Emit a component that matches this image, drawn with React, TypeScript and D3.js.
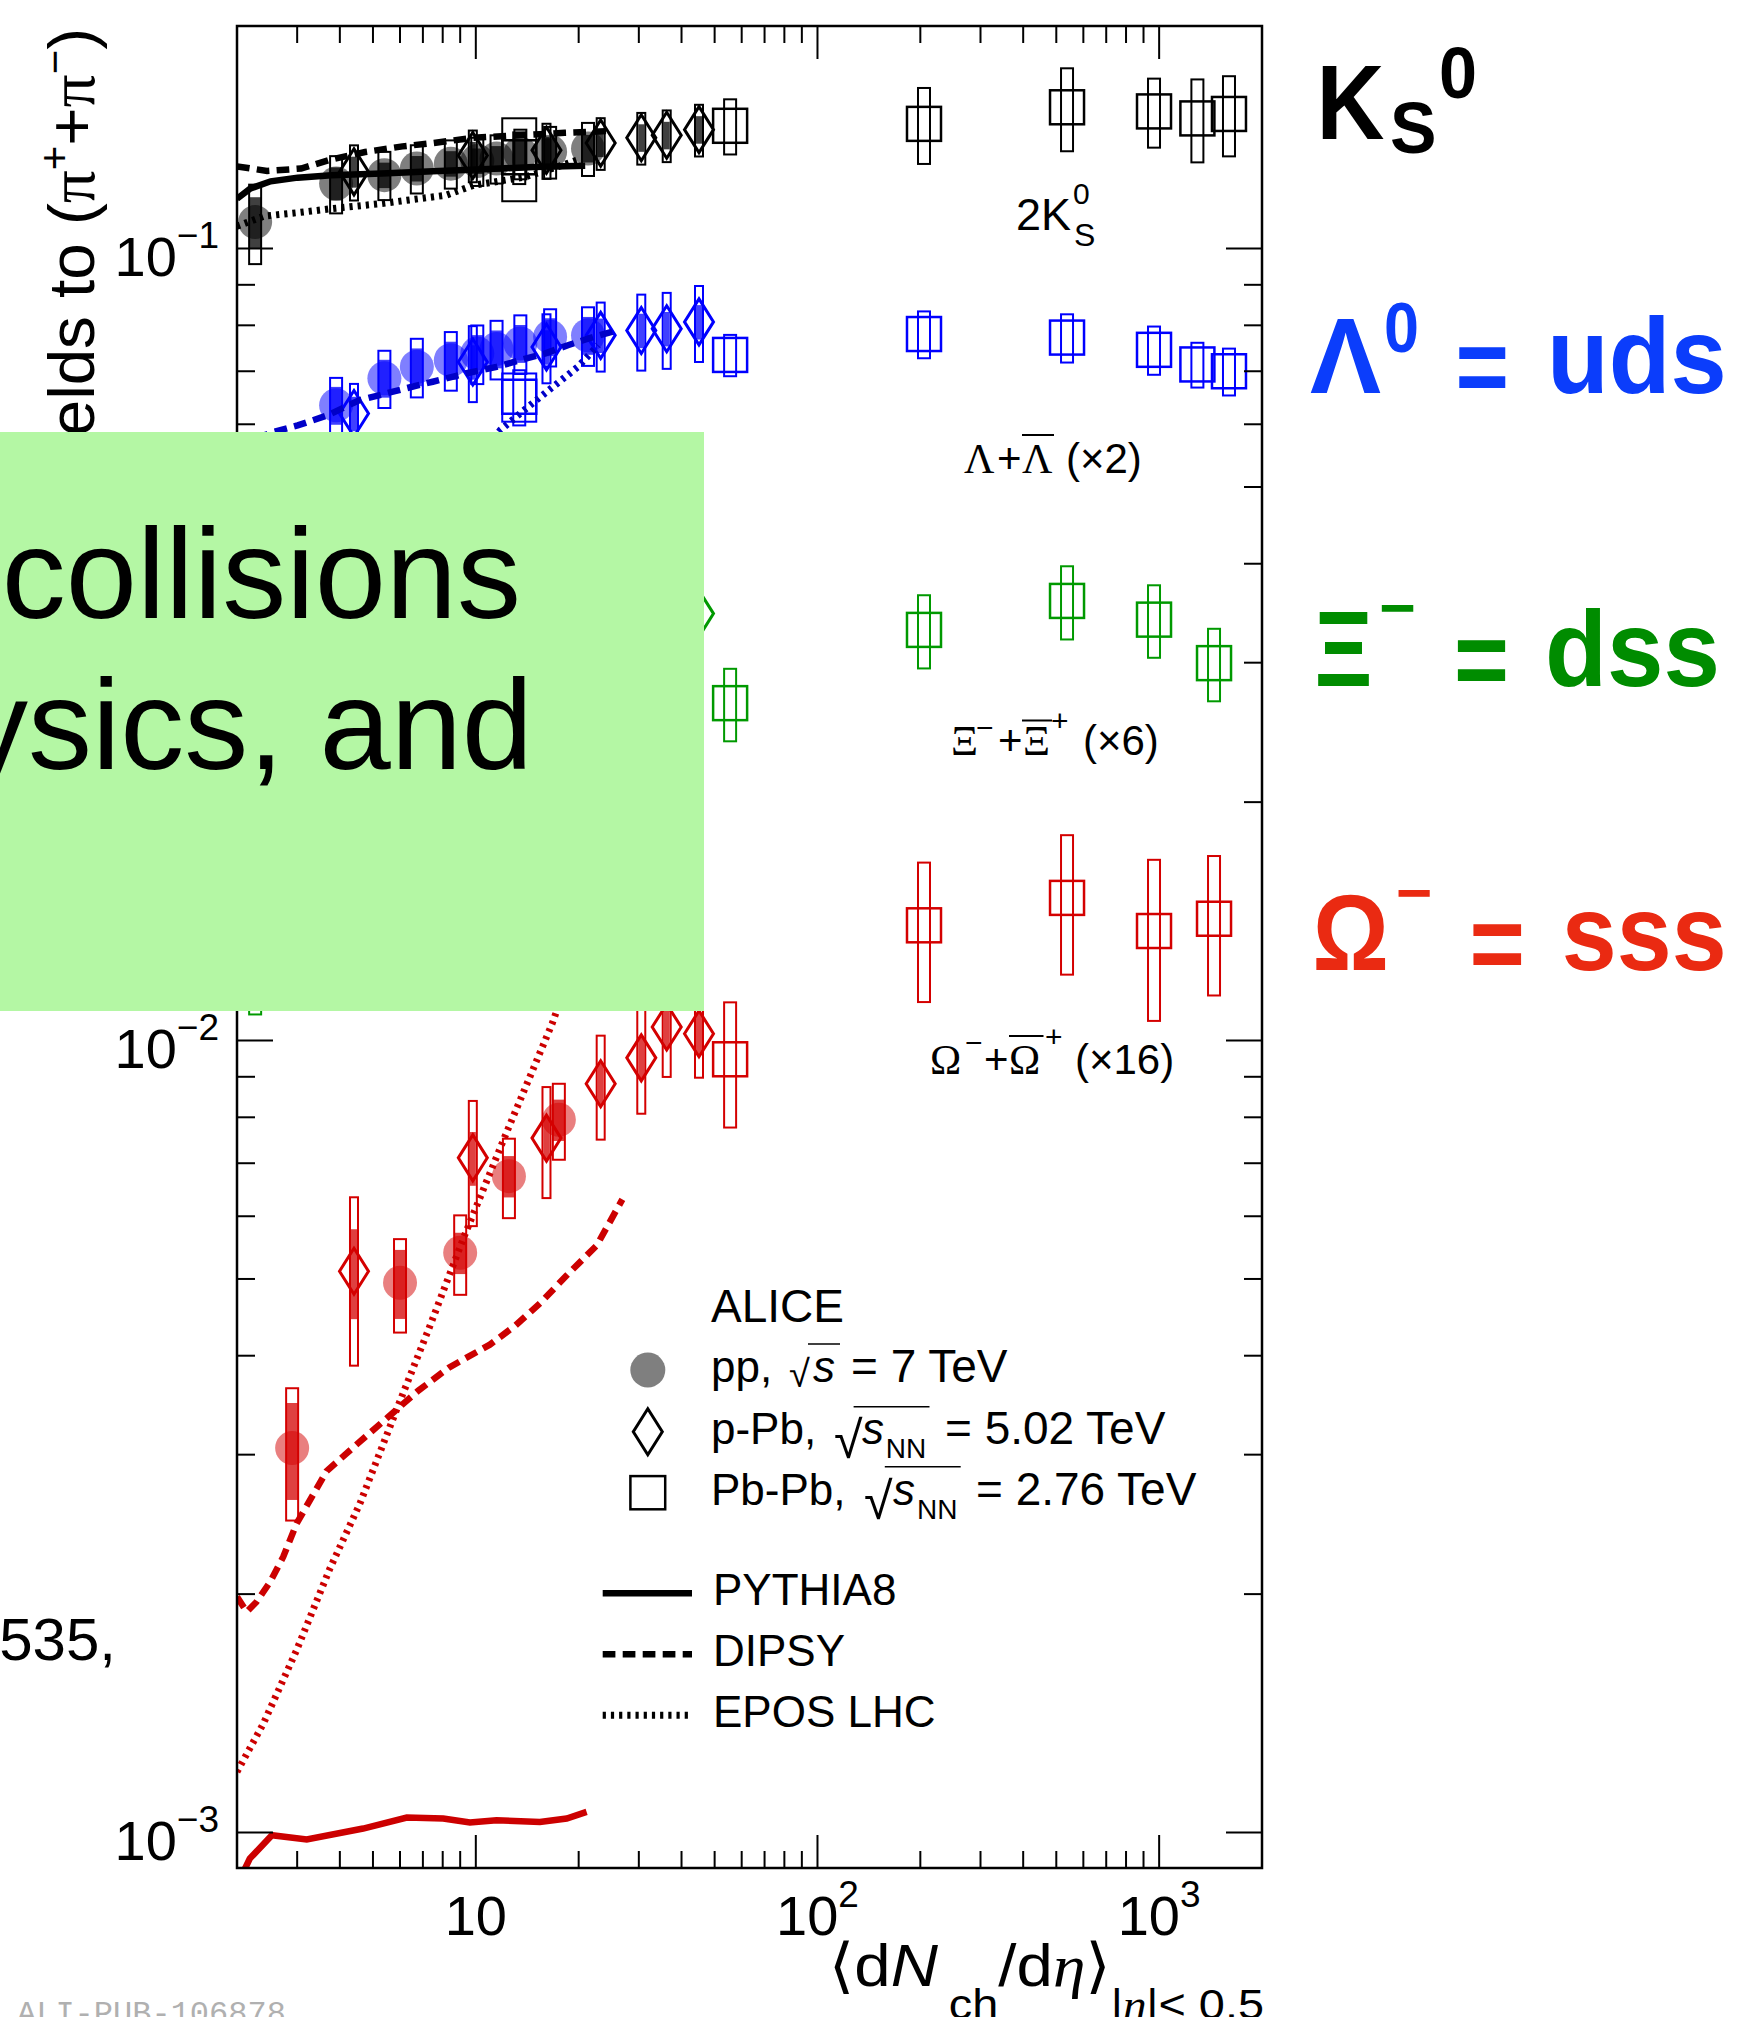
import React from "react";
import * as d3 from "d3";

const WIDTH = 1742;
const HEIGHT = 2017;
const FRAME = { left: 237, right: 1262, top: 26, bottom: 1868 };
const X_DOMAIN = [2, 2000];
const Y_DOMAIN = [9.02e-4, 0.191];

const SANS = "'Liberation Sans', Arial, Helvetica, sans-serif";
const SERIF = "'Liberation Serif', 'Times New Roman', serif";

// <dNch/deta> of the event classes
const ppMult = [2.26, 3.9, 5.4, 6.72, 8.45, 10.1, 11.5, 13.5, 16.5, 21.3];
const ppMultOmega = [2.9, 6.0, 9.0, 12.5, 17.5];
const pPbMult = [4.4, 9.8, 16.1, 23.2, 30.5, 36.2, 45];
const PbPbMult = [13.4, 55.5, 205, 537.5, 966, 1294, 1601];
const PbPbMultMulti = [55.5, 205, 537.5, 966, 1447.5];

// 2K0S / (pi+ + pi-)
const k0sPP = [0.108, 0.1208, 0.1238, 0.1262, 0.128, 0.129, 0.1299, 0.1318, 0.1325, 0.1338];
const k0sPPSys = [0.115, 0.083, 0.07, 0.07, 0.07, 0.07, 0.07, 0.072, 0.075, 0.077];
const k0sPPUnc = [0.075, 0.048, 0.037, 0.037, 0.037, 0.037, 0.037, 0.038, 0.04, 0.04];
const k0sPPb = [0.125, 0.1311, 0.1331, 0.1359, 0.138, 0.139, 0.1413];
const k0sPPbSys = [0.08, 0.075, 0.08, 0.075, 0.075, 0.075, 0.075];
const k0sPPbUnc = [0.045, 0.04, 0.04, 0.04, 0.04, 0.04, 0.04];
const k0sPbPb = [0.1304, 0.1429, 0.1437, 0.1508, 0.149, 0.146, 0.1479];
const k0sPbPbSys = [0.075, 0.08, 0.11, 0.12, 0.1, 0.12, 0.116];
const k0sPbPbWide = [0.12, 0, 0, 0, 0, 0, 0];

// (Lambda + anti-Lambda) x2
const lamPP = [0.048, 0.0634, 0.0686, 0.0709, 0.0723, 0.0737, 0.0747, 0.0759, 0.0774, 0.0777];
const lamPPSys = [0.09, 0.083, 0.083, 0.085, 0.085, 0.085, 0.085, 0.085, 0.083, 0.085];
const lamPPUnc = [0.06, 0.055, 0.055, 0.055, 0.055, 0.055, 0.055, 0.055, 0.055, 0.055];
const lamPPb = [0.0619, 0.0719, 0.0751, 0.0777, 0.0788, 0.0792, 0.0808];
const lamPPbSys = [0.09, 0.11, 0.1, 0.1, 0.11, 0.11, 0.11];
const lamPPbUnc = [0.05, 0.05, 0.05, 0.05, 0.05, 0.05, 0.05];
const lamPbPb = [0.065, 0.0734, 0.078, 0.0772, 0.0745, 0.0714, 0.07];
const lamPbPbSys = [0.08, 0.06, 0.068, 0.07, 0.07, 0.065, 0.068];
const lamPbPbWide = [0.07, 0, 0, 0, 0, 0, 0];

// (Xi- + anti-Xi+) x6
const xiPP = [0.0124, 0.0165, 0.019, 0.0205, 0.022, 0.0232, 0.024, 0.0252, 0.0265, 0.0285];
const xiPPSys = [0.13, 0.1, 0.1, 0.1, 0.1, 0.1, 0.1, 0.1, 0.1, 0.1];
const xiPPUnc = [0.08, 0.06, 0.06, 0.06, 0.06, 0.06, 0.06, 0.06, 0.06, 0.06];
const xiPPb = [0.0185, 0.0245, 0.028, 0.0305, 0.032, 0.0335, 0.0346];
const xiPPbSys = [0.1, 0.1, 0.1, 0.1, 0.1, 0.1, 0.1];
const xiPPbUnc = [0.05, 0.05, 0.05, 0.05, 0.05, 0.05, 0.05];
const xiPbPb = [0.02667, 0.033, 0.0359, 0.034, 0.02996];
const xiPbPbSys = [0.105, 0.106, 0.106, 0.105, 0.105];
const xiPbPbWide = [0, 0, 0, 0, 0];

// (Omega- + anti-Omega+) x16
const omPP = [0.003058, 0.004946, 0.005395, 0.006742, 0.007945];
const omPPSys = [0.19, 0.135, 0.115, 0.115, 0.11];
const omPPUnc = [0.14, 0.1, 0.06, 0.06, 0.06];
const omPPb = [0.005113, 0.00711, 0.00753, 0.00882, 0.00951, 0.0104, 0.0102];
const omPPbSys = [0.24, 0.18, 0.16, 0.15, 0.15, 0.135, 0.12];
const omPPbUnc = [0.13, 0.078, 0.06, 0.06, 0.06, 0.06, 0.06];
const omPbPb = [0.00947, 0.01398, 0.01514, 0.01375, 0.01425];
const omPbPbSys = [0.18, 0.2, 0.2, 0.23, 0.2];
const omPbPbWide = [0, 0, 0, 0, 0];

// MC generator predictions
const pythiaK0sX = [2.0, 2.19, 2.51, 3.01, 3.78, 5.31, 7.48, 10.5, 14.8, 20.9];
const pythiaK0sY = [0.1156, 0.1191, 0.1216, 0.1229, 0.1238, 0.1244, 0.1252, 0.1259, 0.1268, 0.1272];
const dipsyK0sX = [2.0, 2.45, 3.08, 3.78, 4.74, 6.1, 7.48, 9.84, 13.5, 18.2, 25.0];
const dipsyK0sY = [0.127, 0.1253, 0.1262, 0.1296, 0.1324, 0.1346, 0.1359, 0.138, 0.139, 0.14, 0.1408];
const eposK0sX = [2.0, 2.4, 3.01, 3.78, 5.31, 8.2, 9.84, 13.9, 17.9, 20.3];
const eposK0sY = [0.1067, 0.1099, 0.111, 0.1123, 0.114, 0.1168, 0.1202, 0.1231, 0.1274, 0.1299];

const pythiaLamX = [2.0, 3.0, 5.0, 8.0, 12.0, 21.0];
const pythiaLamY = [0.041, 0.044, 0.046, 0.047, 0.048, 0.049];
const dipsyLamX = [2.0, 2.57, 3.01, 3.69, 4.54, 6.24, 7.48, 9.4, 11.5, 13.5, 15.9, 18.6, 21.4, 25.0, 26.2];
const dipsyLamY = [0.0565, 0.0587, 0.0598, 0.0616, 0.0643, 0.0666, 0.0679, 0.0696, 0.0709, 0.0723, 0.0737, 0.0755, 0.077, 0.0785, 0.079];
const eposLamX = [2.0, 3.0, 5.0, 8.0, 10.0, 11.8, 13.84, 16.6, 19.9, 22.8];
const eposLamY = [0.03, 0.033, 0.039, 0.048, 0.054, 0.059, 0.0625, 0.0666, 0.0709, 0.0755];

const pythiaXiX = [2.0, 3.0, 5.0, 8.0, 12.0, 21.0];
const pythiaXiY = [0.0122, 0.0128, 0.0133, 0.0136, 0.0138, 0.014];
const dipsyXiX = [2.0, 3.0, 5.0, 8.0, 12.0, 18.0, 25.0];
const dipsyXiY = [0.0135, 0.015, 0.017, 0.019, 0.021, 0.0225, 0.024];
const eposXiX = [2.0, 3.0, 5.0, 8.0, 12.0, 16.0, 21.0];
const eposXiY = [0.0112, 0.0125, 0.015, 0.019, 0.024, 0.028, 0.032];

const pythiaOmX = [2.11, 2.18, 2.53, 3.2, 4.68, 6.28, 8.03, 9.61, 11.5, 15.4, 18.45, 21.1];
const pythiaOmY = [0.0009, 0.000927, 0.000992, 0.00098, 0.0010116, 0.0010447, 0.0010416, 0.0010295, 0.0010364, 0.0010314, 0.0010416, 0.0010617];
const dipsyOmX = [2.0, 2.135, 2.28, 2.5, 2.73, 2.99, 3.66, 4.49, 5.53, 6.79, 8.34, 10.99, 13.05, 15.5, 18.4, 22.6, 26.85];
const dipsyOmY = [0.001984, 0.0019, 0.001955, 0.002072, 0.002228, 0.002456, 0.002861, 0.003093, 0.003345, 0.003614, 0.003864, 0.00413, 0.004366, 0.004669, 0.005047, 0.005513, 0.006302];
const eposOmX = [2.0, 2.39, 2.99, 3.74, 4.58, 6.04, 7.32, 9.23, 12.27, 16.72, 21.0];
const eposOmY = [0.001193, 0.001373, 0.0017, 0.002154, 0.002603, 0.003532, 0.004348, 0.005649, 0.007633, 0.0105, 0.0138];

// axis ticks
const xMajorTicks = [10, 100, 1000];
const xTickExponents = ["", "2", "3"];
const xMinorTicks = [3, 4, 5, 6, 7, 8, 9, 20, 30, 40, 50, 60, 70, 80, 90, 200, 300, 400, 500, 600, 700, 800, 900];
const yMajorTicks = [1e-3, 1e-2, 1e-1];
const yTickExponents = ["\u22123", "\u22122", "\u22121"];
const yMinorTicks = [2e-3, 3e-3, 4e-3, 5e-3, 6e-3, 7e-3, 8e-3, 9e-3, 2e-2, 3e-2, 4e-2, 5e-2, 6e-2, 7e-2, 8e-2, 9e-2];

const modelNames = ["PYTHIA8", "DIPSY", "EPOS LHC"];
const modelDash = [null, "12.7 7.3", "3.2 5"];

const SPECIES = [
  {
    name: "K0S", color: "#000000", lineColor: "#000000",
    pp: { x: ppMult, y: k0sPP, sys: k0sPPSys, unc: k0sPPUnc },
    pPb: { x: pPbMult, y: k0sPPb, sys: k0sPPbSys, unc: k0sPPbUnc },
    PbPb: { x: PbPbMult, y: k0sPbPb, sys: k0sPbPbSys, wide: k0sPbPbWide },
    models: [[pythiaK0sX, pythiaK0sY], [dipsyK0sX, dipsyK0sY], [eposK0sX, eposK0sY]],
  },
  {
    name: "Lambda", color: "#0000ff", lineColor: "#0000c8",
    pp: { x: ppMult, y: lamPP, sys: lamPPSys, unc: lamPPUnc },
    pPb: { x: pPbMult, y: lamPPb, sys: lamPPbSys, unc: lamPPbUnc },
    PbPb: { x: PbPbMult, y: lamPbPb, sys: lamPbPbSys, wide: lamPbPbWide },
    models: [[pythiaLamX, pythiaLamY], [dipsyLamX, dipsyLamY], [eposLamX, eposLamY]],
  },
  {
    name: "Xi", color: "#009900", lineColor: "#008000",
    pp: { x: ppMult, y: xiPP, sys: xiPPSys, unc: xiPPUnc },
    pPb: { x: pPbMult, y: xiPPb, sys: xiPPbSys, unc: xiPPbUnc },
    PbPb: { x: PbPbMultMulti, y: xiPbPb, sys: xiPbPbSys, wide: xiPbPbWide },
    models: [[pythiaXiX, pythiaXiY], [dipsyXiX, dipsyXiY], [eposXiX, eposXiY]],
  },
  {
    name: "Omega", color: "#d40000", lineColor: "#cc0000",
    pp: { x: ppMultOmega, y: omPP, sys: omPPSys, unc: omPPUnc },
    pPb: { x: pPbMult, y: omPPb, sys: omPPbSys, unc: omPPbUnc },
    PbPb: { x: PbPbMultMulti, y: omPbPb, sys: omPbPbSys, wide: omPbPbWide },
    models: [[pythiaOmX, pythiaOmY], [dipsyOmX, dipsyOmY], [eposOmX, eposOmY]],
  },
];

const CIRCLE_R = 17;
const DIAMOND_W = 14.5;
const DIAMOND_H = 23;
const SQUARE = 34;
const LINE_W = 6.5;

export default function App() {
  const sx = d3.scaleLog().domain(X_DOMAIN).range([FRAME.left, FRAME.right]);
  const sy = d3.scaleLog().domain(Y_DOMAIN).range([FRAME.bottom, FRAME.top]);
  const line = d3
    .line<[number, number]>()
    .x((d) => sx(d[0]))
    .y((d) => sy(d[1]));

  const errBox = (xv: number, yv: number, rel: number, w: number) => {
    const top = sy(yv * (1 + rel));
    const bottom = sy(yv * (1 - rel));
    return { x: sx(xv) - w / 2, y: top, width: w, height: bottom - top };
  };
  const diamond = (cx: number, cy: number) =>
    `M${cx},${cy - DIAMOND_H}L${cx + DIAMOND_W},${cy}L${cx},${cy + DIAMOND_H}L${cx - DIAMOND_W},${cy}Z`;

  return (
    <svg
      width={WIDTH}
      height={HEIGHT}
      viewBox={`0 0 ${WIDTH} ${HEIGHT}`}
      style={{ position: "absolute", left: 0, top: 0, display: "block", background: "#ffffff" }}
      fontFamily={SANS}
    >
      <defs>
        <clipPath id="frameClip">
          <rect x={FRAME.left} y={FRAME.top} width={FRAME.right - FRAME.left} height={FRAME.bottom - FRAME.top} />
        </clipPath>
      </defs>
      <rect x={0} y={0} width={WIDTH} height={HEIGHT} fill="#ffffff" />

      {/* data points */}
      {SPECIES.map((sp) => (
        <g key={sp.name}>
          {sp.pp.x.map((xv, i) => (
            <circle key={`c${i}`} cx={sx(xv)} cy={sy(sp.pp.y[i])} r={CIRCLE_R} fill={sp.color} fillOpacity={0.5} />
          ))}
          {sp.pp.x.map((xv, i) => (
            <rect key={`ps${i}`} {...errBox(xv, sp.pp.y[i], sp.pp.sys[i], 12)} fill="none" stroke={sp.color} strokeWidth={2} />
          ))}
          {sp.pp.x.map((xv, i) => (
            <rect key={`pu${i}`} {...errBox(xv, sp.pp.y[i], sp.pp.unc[i], 12)} fill={sp.color} fillOpacity={0.75} />
          ))}
          {sp.pPb.x.map((xv, i) => (
            <rect key={`as${i}`} {...errBox(xv, sp.pPb.y[i], sp.pPb.sys[i], 8)} fill="none" stroke={sp.color} strokeWidth={2} />
          ))}
          {sp.pPb.x.map((xv, i) => (
            <rect key={`au${i}`} {...errBox(xv, sp.pPb.y[i], sp.pPb.unc[i], 6)} fill={sp.color} fillOpacity={0.75} />
          ))}
          {sp.pPb.x.map((xv, i) => (
            <path key={`d${i}`} d={diamond(sx(xv), sy(sp.pPb.y[i]))} fill="none" stroke={sp.color} strokeWidth={3} />
          ))}
          {sp.PbPb.x.map((xv, i) =>
            sp.PbPb.wide[i] > 0 ? (
              <rect key={`bw${i}`} {...errBox(xv, sp.PbPb.y[i], sp.PbPb.wide[i], SQUARE)} fill="none" stroke={sp.color} strokeWidth={2} />
            ) : null
          )}
          {sp.PbPb.x.map((xv, i) => (
            <rect key={`bs${i}`} {...errBox(xv, sp.PbPb.y[i], sp.PbPb.sys[i], 12)} fill="none" stroke={sp.color} strokeWidth={2} />
          ))}
          {sp.PbPb.x.map((xv, i) => (
            <rect
              key={`sq${i}`}
              x={sx(xv) - SQUARE / 2}
              y={sy(sp.PbPb.y[i]) - SQUARE / 2}
              width={SQUARE}
              height={SQUARE}
              fill="none"
              stroke={sp.color}
              strokeWidth={2.5}
            />
          ))}
        </g>
      ))}

      {/* model curves */}
      <g clipPath="url(#frameClip)" fill="none">
        {SPECIES.map((sp) =>
          sp.models.map(([xs, ys], m) => (
            <path
              key={`${sp.name}-${m}`}
              d={line(d3.zip(xs, ys) as [number, number][]) || ""}
              stroke={sp.lineColor}
              strokeWidth={m === 2 ? 7 : LINE_W}
              strokeDasharray={modelDash[m] || undefined}
            />
          ))
        )}
      </g>

      {/* frame and ticks */}
      <g stroke="#000" strokeWidth={2}>
        {xMajorTicks.map((t) => (
          <g key={`xM${t}`}>
            <line x1={sx(t)} x2={sx(t)} y1={FRAME.bottom} y2={FRAME.bottom - 33} />
            <line x1={sx(t)} x2={sx(t)} y1={FRAME.top} y2={FRAME.top + 33} />
          </g>
        ))}
        {xMinorTicks.map((t) => (
          <g key={`xm${t}`}>
            <line x1={sx(t)} x2={sx(t)} y1={FRAME.bottom} y2={FRAME.bottom - 17} />
            <line x1={sx(t)} x2={sx(t)} y1={FRAME.top} y2={FRAME.top + 17} />
          </g>
        ))}
        {yMajorTicks.map((t) => (
          <g key={`yM${t}`}>
            <line x1={FRAME.left} x2={FRAME.left + 36} y1={sy(t)} y2={sy(t)} />
            <line x1={FRAME.right} x2={FRAME.right - 36} y1={sy(t)} y2={sy(t)} />
          </g>
        ))}
        {yMinorTicks.map((t) => (
          <g key={`ym${t}`}>
            <line x1={FRAME.left} x2={FRAME.left + 18} y1={sy(t)} y2={sy(t)} />
            <line x1={FRAME.right} x2={FRAME.right - 18} y1={sy(t)} y2={sy(t)} />
          </g>
        ))}
        <rect
          x={FRAME.left}
          y={FRAME.top}
          width={FRAME.right - FRAME.left}
          height={FRAME.bottom - FRAME.top}
          fill="none"
          strokeWidth={2.5}
        />
      </g>

      {/* tick labels */}
      {xMajorTicks.map((t, i) => (
        <text key={`xl${t}`} x={sx(t)} y={1935} fontSize={56} textAnchor="middle">
          10
          {xTickExponents[i] ? (
            <tspan dy={-28} fontSize={37}>
              {xTickExponents[i]}
            </tspan>
          ) : null}
        </text>
      ))}
      {yMajorTicks.map((t, i) => (
        <text key={`yl${t}`} x={219} y={sy(t) + 27} fontSize={56} textAnchor="end">
          10
          <tspan dy={-28} fontSize={37}>
            {yTickExponents[i]}
          </tspan>
        </text>
      ))}

      {/* axis titles */}
      <g transform="translate(1264,1986) scale(1.09,1)">
        <text x={0} y={0} fontSize={60} textAnchor="end">
          <tspan fontFamily="'DejaVu Sans', sans-serif">{"\u27E8"}</tspan>
          <tspan>d</tspan>
          <tspan fontStyle="italic">N</tspan>
          <tspan dx={10} dy={33} fontSize={43}>ch</tspan>
          <tspan dy={-33}>/d</tspan>
          <tspan fontStyle="italic" fontFamily={SERIF}>{"\u03B7"}</tspan>
          <tspan fontFamily="'DejaVu Sans', sans-serif">{"\u27E9"}</tspan>
          <tspan dy={33} fontSize={43}>|</tspan>
          <tspan fontSize={43} fontStyle="italic" fontFamily={SERIF}>{"\u03B7"}</tspan>
          <tspan fontSize={43}>{"|< 0.5"}</tspan>
        </text>
      </g>
      <text transform="translate(94,28) rotate(-90)" fontSize={65.5} textAnchor="end">
        <tspan>{"Ratio of yields to ("}</tspan>
        <tspan fontFamily={SERIF}>{"\u03C0"}</tspan>
        <tspan dy={-25} fontSize={42}>+</tspan>
        <tspan dy={25}>+</tspan>
        <tspan fontFamily={SERIF}>{"\u03C0"}</tspan>
        <tspan dy={-25} fontSize={42}>{"\u2212"}</tspan>
        <tspan dy={25}>)</tspan>
      </text>

      {/* particle labels inside the frame */}
      <text x={1016} y={230} fontSize={45}>2K</text>
      <text x={1073} y={204} fontSize={30}>0</text>
      <text x={1074} y={246} fontSize={32}>S</text>

      <text y={472.8} fontSize={42}>
        <tspan x={964} fontFamily={SERIF}>{"\u039B"}</tspan>
        <tspan x={997}>+</tspan>
        <tspan x={1022} fontFamily={SERIF}>{"\u039B"}</tspan>
        <tspan x={1066}>{"(\u00D72)"}</tspan>
      </text>
      <line x1={1022} x2={1054} y1={435} y2={435} stroke="#000" strokeWidth={2} />

      <text y={755} fontSize={42}>
        <tspan x={951} fontFamily={SERIF}>{"\u039E"}</tspan>
        <tspan x={998}>+</tspan>
        <tspan x={1023} fontFamily={SERIF}>{"\u039E"}</tspan>
        <tspan x={1083}>{"(\u00D76)"}</tspan>
      </text>
      <text x={976} y={738} fontSize={30}>{"\u2212"}</text>
      <text x={1051} y={731} fontSize={30}>+</text>
      <line x1={1022} x2={1052} y1={720.5} y2={720.5} stroke="#000" strokeWidth={2} />

      <text y={1074} fontSize={42}>
        <tspan x={930} fontFamily={SERIF}>{"\u03A9"}</tspan>
        <tspan x={984}>+</tspan>
        <tspan x={1009} fontFamily={SERIF}>{"\u03A9"}</tspan>
        <tspan x={1075}>{"(\u00D716)"}</tspan>
      </text>
      <text x={965} y={1053} fontSize={30}>{"\u2212"}</text>
      <text x={1045} y={1047} fontSize={30}>+</text>
      <line x1={1009} x2={1043.5} y1={1036} y2={1036} stroke="#000" strokeWidth={2} />

      {/* legend */}
      <text x={711} y={1321.7} fontSize={46}>ALICE</text>
      <circle cx={647.8} cy={1370} r={17.5} fill="#000" fillOpacity={0.5} />
      <text x={711} y={1381.7} fontSize={44}>pp,</text>
      <text x={789} y={1387} fontSize={38}>{"\u221A"}</text>
      <line x1={808} x2={840} y1={1344} y2={1344} stroke="#000" strokeWidth={1.5} />
      <text x={813} y={1381.7} fontSize={44} fontStyle="italic">s</text>
      <text x={851} y={1381.7} fontSize={46}>= 7 TeV</text>

      <path d={diamond(647.8, 1431.7)} fill="none" stroke="#000" strokeWidth={3} />
      <text x={711} y={1444} fontSize={44}>p-Pb,</text>
      <text x={834} y={1458} fontSize={52}>{"\u221A"}</text>
      <line x1={853.6} x2={929.5} y1={1406.7} y2={1406.7} stroke="#000" strokeWidth={1.5} />
      <text x={862} y={1444} fontSize={44} fontStyle="italic">s</text>
      <text x={885.7} y={1458} fontSize={28}>NN</text>
      <text x={945} y={1444} fontSize={46}>= 5.02 TeV</text>

      <rect x={647.8 - 17.4} y={1492.7 - 16.6} width={34.8} height={33.2} fill="none" stroke="#000" strokeWidth={2.5} />
      <text x={711} y={1505} fontSize={44}>Pb-Pb,</text>
      <text x={864} y={1519} fontSize={52}>{"\u221A"}</text>
      <line x1={884.8} x2={960.7} y1={1466.7} y2={1466.7} stroke="#000" strokeWidth={1.5} />
      <text x={893} y={1505} fontSize={44} fontStyle="italic">s</text>
      <text x={917} y={1519} fontSize={28}>NN</text>
      <text x={976} y={1505} fontSize={46}>= 2.76 TeV</text>

      {modelNames.map((nm, m) => (
        <g key={nm}>
          <line
            x1={602.7}
            x2={692}
            y1={1593.3 + m * 61}
            y2={1593.3 + m * 61}
            stroke="#000"
            strokeWidth={m === 2 ? 7 : LINE_W}
            strokeDasharray={modelDash[m] || undefined}
          />
          <text x={713} y={1605 + m * 61} fontSize={44}>
            {nm}
          </text>
        </g>
      ))}

      {/* species labels to the right */}
      <g fontWeight="bold">
        <text x={1316.6} y={139.3} fontSize={106} textLength={68} lengthAdjust="spacingAndGlyphs">K</text>
        <text x={1390} y={152.7} fontSize={73} textLength={46.5} lengthAdjust="spacingAndGlyphs">S</text>
        <text x={1439} y={98.3} fontSize={72} textLength={38} lengthAdjust="spacingAndGlyphs">0</text>

        <g fill="#0b3dfb">
          <text x={1310} y={393.3} fontSize={107} textLength={71} lengthAdjust="spacingAndGlyphs">{"\u039B"}</text>
          <text x={1384} y={351.7} fontSize={70} textLength={35} lengthAdjust="spacingAndGlyphs">0</text>
          <text x={1455.5} y={403.3} fontSize={107} textLength={53.5} lengthAdjust="spacingAndGlyphs">=</text>
          <text x={1547} y={393.3} fontSize={107} textLength={179.6} lengthAdjust="spacingAndGlyphs">uds</text>
        </g>

        <g fill="#008c00">
          <text x={1314.6} y={685.7} fontSize={107} textLength={58} lengthAdjust="spacingAndGlyphs">{"\u039E"}</text>
          <text x={1379} y={629} fontSize={62} textLength={36.6} lengthAdjust="spacingAndGlyphs">{"\u2212"}</text>
          <text x={1454} y={695.7} fontSize={107} textLength={55} lengthAdjust="spacingAndGlyphs">=</text>
          <text x={1545} y={685.7} fontSize={107} textLength={175} lengthAdjust="spacingAndGlyphs">dss</text>
        </g>

        <g fill="#ea2a12">
          <text x={1312.6} y={970} fontSize={107} textLength={76.4} lengthAdjust="spacingAndGlyphs">{"\u03A9"}</text>
          <text x={1395.7} y={914} fontSize={62} textLength={36.3} lengthAdjust="spacingAndGlyphs">{"\u2212"}</text>
          <text x={1469.5} y={980} fontSize={107} textLength={55.5} lengthAdjust="spacingAndGlyphs">=</text>
          <text x={1561.8} y={970} fontSize={107} textLength={164.8} lengthAdjust="spacingAndGlyphs">sss</text>
        </g>
      </g>

      {/* slide overlay */}
      <rect x={0} y={432} width={704} height={579} fill="#b4f7a4" />
      <text x={521} y={617.7} fontSize={128} textAnchor="end">collisions</text>
      <text x={533} y={769} fontSize={128} textAnchor="end">ysics, and</text>
      <text x={116} y={1660} fontSize={60} textAnchor="end">535,</text>

      <text x={17} y={2023} fontSize={32} fill="#b0b0b0" fontFamily="'Liberation Mono', 'DejaVu Sans Mono', monospace">
        ALI-PUB-106878
      </text>
    </svg>
  );
}
